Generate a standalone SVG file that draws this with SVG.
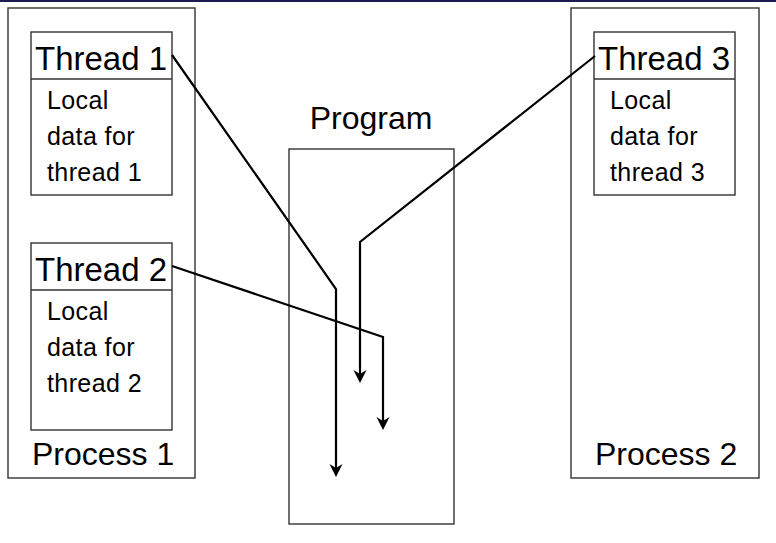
<svg xmlns="http://www.w3.org/2000/svg" width="776" height="543" viewBox="0 0 776 543">
<style>
.box{fill:none;stroke:#333;stroke-width:1.4}
.big{font-family:"Liberation Sans",Arial,sans-serif;font-size:32px;fill:#000}
.hdr{font-family:"Liberation Sans",Arial,sans-serif;font-size:33px;fill:#000}
.body{font-family:"Liberation Sans",Arial,sans-serif;font-size:25px;fill:#000;letter-spacing:0.4px}
.conn{fill:none;stroke:#000;stroke-width:2.2;marker-end:url(#ah)}
</style>
<defs>
<marker id="ah" markerUnits="userSpaceOnUse" markerWidth="16" markerHeight="16" refX="9" refY="8" orient="auto" style="overflow:visible">
<path d="M13,8 L0,1.5 L4,8 L0,14.5 Z" fill="#000"/>
</marker>
</defs>
<rect x="0" y="0" width="776" height="2" fill="#1c1a55"/>
<g id="process1">
<rect class="box" x="8" y="8" width="187" height="470"/>
<text class="big" x="32" y="465">Process 1</text>
</g>
<g id="thread1">
<rect class="box" x="31" y="32" width="141" height="163"/>
<line class="box" x1="31" y1="79" x2="172" y2="79"/>
<text class="hdr" x="35" y="70">Thread 1</text>
<text class="body" x="47" y="109">Local</text>
<text class="body" x="47" y="145">data for</text>
<text class="body" x="47" y="181">thread 1</text>
</g>
<g id="thread2">
<rect class="box" x="31" y="243" width="141" height="187"/>
<line class="box" x1="31" y1="290" x2="172" y2="290"/>
<text class="hdr" x="35" y="281">Thread 2</text>
<text class="body" x="47" y="320">Local</text>
<text class="body" x="47" y="356">data for</text>
<text class="body" x="47" y="392">thread 2</text>
</g>
<g id="program">
<rect class="box" x="289" y="149" width="165" height="375"/>
<text class="big" x="371" y="129" text-anchor="middle">Program</text>
</g>
<g id="process2">
<rect class="box" x="571" y="8" width="188" height="470"/>
<text class="big" x="595" y="465">Process 2</text>
</g>
<g id="thread3">
<rect class="box" x="594" y="32" width="141" height="163"/>
<line class="box" x1="594" y1="79" x2="735" y2="79"/>
<text class="hdr" x="598" y="70">Thread 3</text>
<text class="body" x="610" y="109">Local</text>
<text class="body" x="610" y="145">data for</text>
<text class="body" x="610" y="181">thread 3</text>
</g>
<g id="connectors">
<path class="conn" d="M172,55 L336,289 L336,473"/>
<path class="conn" d="M172,266 L383,337 L383,426"/>
<path class="conn" d="M595,56 L360,242 L360,379"/>
</g>
</svg>
